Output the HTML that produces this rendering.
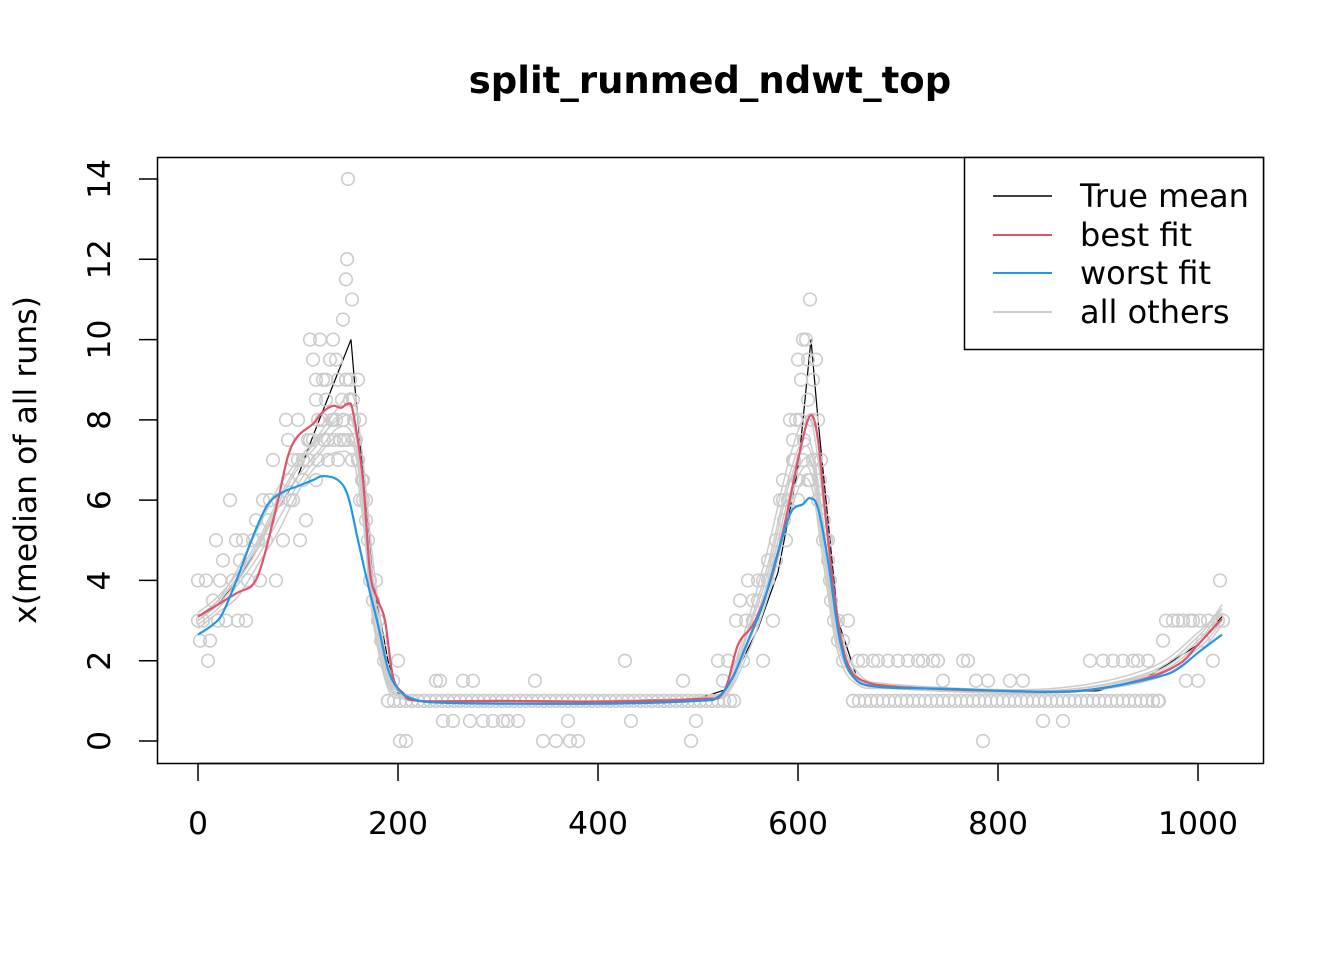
<!DOCTYPE html>
<html><head><meta charset="utf-8"><style>
body{margin:0;background:#fff}
svg text{font-family:"DejaVu Sans","Liberation Sans",sans-serif}
</style></head><body>
<svg id="chart" width="1344" height="960" xmlns="http://www.w3.org/2000/svg">
<rect width="1344" height="960" fill="#fff"/>
<text x="710" y="93" text-anchor="middle" font-size="37" font-weight="bold">split_runmed_ndwt_top</text>
<g id="lines0"></g>
<g id="lines1"></g>
<g id="pts"></g>
<g id="lines"></g>
<rect x="157.5" y="157.5" width="1106" height="606" fill="none" stroke="#000" stroke-width="1.5"/>
<g id="xaxis"></g>
<g id="yaxis"></g>
<text transform="translate(36,460) rotate(-90)" text-anchor="middle" font-size="31.5">x(median of all runs)</text>
<g>
<rect x="964.5" y="157.5" width="299" height="192" fill="#fff" stroke="#000" stroke-width="1.5"/>
<g><line x1="993" x2="1052" y1="196" y2="196" stroke="#000" stroke-width="1.5"/><text x="1080" y="207" font-size="32">True mean</text></g>
<g><line x1="993" x2="1052" y1="235" y2="235" stroke="#DF536B" stroke-width="2"/><text x="1080" y="246" font-size="32">best fit</text></g>
<g><line x1="993" x2="1052" y1="273" y2="273" stroke="#2297E6" stroke-width="2"/><text x="1080" y="284" font-size="32">worst fit</text></g>
<g><line x1="993" x2="1052" y1="312" y2="312" stroke="#cccccc" stroke-width="2"/><text x="1080" y="323" font-size="32">all others</text></g>
</g>
</svg>
<script>
const xTicks=[0,200,400,600,800,1000];
const yTicks=[0,2,4,6,8,10,12,14];
const meanX=[0,20,40,60,80,100,115,153,158,175,190,200,220,300,400,500,530,560,580,600,605,613,620,640,660,700,800,900,950,1000,1024];
const meanY=[3,3.4,4,4.8,5.8,6.6,7.6,10,8.5,4,2,1.2,1,1,1,1.05,1.3,2.8,4.2,6.8,8,10,8,3,1.5,1.3,1.2,1.25,1.6,2.4,3.1];
const bestX=[0,20,40,55,65,80,90,100,115,125,135,143,150,155,165,172,180,187,195,205,220,300,400,500,525,540,555,570,585,600,612,620,628,640,650,665,700,800,880,940,980,1000,1024];
const bestY=[3.1,3.4,3.7,3.9,4.5,6,7.1,7.6,7.9,8.2,8.35,8.3,8.4,8.2,6.5,4.2,3.5,3,1.6,1.2,1.0,1.0,0.98,1.05,1.2,2.4,2.9,3.8,5.2,7,8.1,7.5,5.5,3,1.9,1.5,1.35,1.25,1.25,1.5,1.9,2.4,3.05];
const worstX=[0,15,25,40,55,70,85,100,115,125,140,150,160,170,180,190,200,215,250,400,500,520,535,550,565,580,593,605,612,620,630,642,655,680,750,850,900,960,980,1000,1024];
const worstY=[2.65,2.9,3.2,4.1,5.1,5.9,6.2,6.35,6.5,6.6,6.5,6.1,5,3.9,2.9,1.8,1.3,1.05,0.95,0.93,1.0,1.1,1.6,2.5,3.4,4.7,5.7,5.9,6.05,5.8,4.5,2.5,1.6,1.35,1.3,1.22,1.3,1.6,1.8,2.2,2.65];
const othersX=[0,20,40,60,80,100,120,140,155,165,175,190,205,230,400,510,530,550,570,590,605,615,625,640,660,700,850,950,1000,1024];
const other1=[3,3.4,4,4.8,5.8,6.6,7.2,7.8,7.6,6,3.5,1.5,1.1,1,1,1.05,1.3,2.5,4,6,7,6.8,5,2.5,1.5,1.3,1.2,1.6,2.4,3.2];
const other2=[2.8,3.2,3.6,4.4,5.2,6.2,6.9,7.2,7,5.5,3,1.3,1.05,1,1,1.05,1.2,2.2,3.6,5.5,6.5,6.2,4.5,2.2,1.4,1.3,1.2,1.5,2.2,2.9];
const other3=[3.2,3.6,4.2,5,6,6.9,7.5,8,8,6.5,4,1.7,1.15,1,0.98,1.1,1.4,2.8,4.4,6.5,7.5,7.2,5.5,2.8,1.6,1.4,1.25,1.7,2.6,3.4];
const other4=[3,3.5,4.3,5.3,6.3,7,7.6,8.3,8.6,7,4.5,1.8,1.2,1,1,1.1,1.5,3,4.8,6.9,8,7.8,6,3,1.7,1.4,1.3,1.8,2.7,3.3];
const other5=[2.9,3.3,3.9,4.6,5.5,6.4,7.1,7.6,7.4,5.8,3.2,1.4,1.1,1,1,1.05,1.25,2.4,3.8,5.8,6.8,6.5,4.8,2.4,1.5,1.35,1.2,1.55,2.3,3];
const other6=[3.1,3.5,4.1,4.9,5.9,6.8,7.4,8.1,7.9,6.2,3.8,1.6,1.1,1,1,1.08,1.35,2.7,4.2,6.3,7.3,7,5.2,2.6,1.55,1.35,1.25,1.65,2.5,3.3];
const ptsX=[0,0,2,5,8,10,12,15,18,20,22,25,28,32,35,38,40,42,45,48,50,55,58,62,65,68,72,75,78,80,85,88,90,92,95,100,102,105,108,110,
112,115,118,120,122,125,128,130,132,135,138,140,142,145,148,149,150,152,154,156,158,160,162,165,168,170,172,175,178,180,183,186,190,195,200,202,208,
238,242,245,255,265,272,275,285,295,305,310,320,337,345,358,370,372,380,427,433,485,493,498,
520,525,530,538,542,545,550,555,560,565,570,575,578,582,585,588,592,595,598,600,603,605,608,610,612,615,618,620,623,625,628,630,633,636,640,645,650,655,660,
665,675,680,690,700,710,720,725,735,740,745,765,770,778,785,790,812,825,845,865,892,905,915,925,935,940,950,955,960,965,968,975,980,985,988,992,995,1000,1002,1005,1010,1015,1020,1022,1025,
60,70,80,90,100,110,115,120,125,130,135,140,145,150,155,160,165,595,600,605,610,615,620,625,590,585,630,
95,105,112,118,124,128,134,138,144,148,152,156,160,164,168,118,126,136,146,154,162,
570,578,586,590,596,602,606,610,614,618,622,626,632,600,612,620,560,548,555,565,640,645];
const ptsY=[4,3,2.5,3,4,2,2.5,3.5,5,3,4,4.5,3,6,4,5,3,4.5,5,3,4,5,5.5,4,6,5,6,7,4,6,5,8,7.5,6,7,8,5,6.5,5.5,7.5,
10,9.5,9,8,10,9,8.5,7,9.5,10,8,9,7.5,10.5,11.5,12,14,9,11,8,7.5,9,8,6,5.5,5,4,3.5,4,3,2.5,2,1,1.5,2,0,0,
1.5,1.5,0.5,0.5,1.5,0.5,1.5,0.5,0.5,0.5,0.5,0.5,1.5,0,0,0.5,0,0,2,0.5,1.5,0,0.5,
2,1.5,2,3,3.5,2,4,3,4,2,4.5,3,5,6,6.5,5,8,7.5,8,9.5,9,10,10,9.5,11,9,9.5,8,7,6,5,4.5,3.5,3,3,2,3,1,2,
2,2,2,2,2,2,2,2,2,2,1.5,2,2,1.5,0,1.5,1.5,1.5,0.5,0.5,2,2,2,2,2,2,2,1,1,2.5,3,3,3,3,1.5,3,3,1.5,3,2.5,3,2,3,4,3,
5,5.5,6,6.5,7,7,7.5,7,8,7.5,8,7,8,7.5,8.5,7,6.5,7,6.5,7,6.5,7,6,5,6,6,5,
6,7,7.5,8.5,8,9,8,9.5,8.5,9,8.5,7.5,7,6.5,6,6.5,7.5,7.5,7.5,7,6,
4,4.5,5.5,6,7,8,7.5,8.5,8,7,6.5,5.5,4,6,6.5,6,3.5,3,3.5,4,2.5,2.5];
const flatX=[190,196,202,208,214,220,226,232,238,244,250,256,262,268,274,280,286,292,298,304,310,316,322,328,334,340,346,352,358,364,370,376,382,388,394,400,406,412,418,424,430,436,442,448,454,460,466,472,478,484,490,496,502,508,514,520,526,532,536,655,661,667,673,679,685,691,697,703,709,715,721,727,733,739,745,751,757,763,769,775,781,787,793,799,805,811,817,823,829,835,841,847,853,859,865,871,877,883,889,895,901,907,913,919,925,931,937,943,949,955,961];
const flatY=flatX.map(()=>1);

const NS="http://www.w3.org/2000/svg";
const X=v=>198+v*1.0;
const Y=v=>741-v*(562/14);
function mk(tag,attrs,parent){const e=document.createElementNS(NS,tag);for(const k in attrs)e.setAttribute(k,attrs[k]);parent.appendChild(e);return e;}
function pathD(xs,ys){const p=xs.map((x,i)=>[X(x),Y(ys[i])]);let d=`M${p[0][0]},${p[0][1]}`;
for(let i=0;i<p.length-1;i++){const p0=p[i-1]||p[i],p1=p[i],p2=p[i+1],p3=p[i+2]||p2;
const c1=[p1[0]+(p2[0]-p0[0])/6,p1[1]+(p2[1]-p0[1])/6],c2=[p2[0]-(p3[0]-p1[0])/6,p2[1]-(p3[1]-p1[1])/6];
d+=`C${c1[0]},${c1[1]} ${c2[0]},${c2[1]} ${p2[0]},${p2[1]}`;}return d;}
function lineD(xs,ys){return xs.map((x,i)=>(i?'L':'M')+X(x)+','+Y(ys[i])).join('');}
const l0=document.getElementById('lines0');
const lm=mk('path',{d:lineD(meanX,meanY),fill:'none',stroke:'#000','stroke-width':1.2},l0);


const l1=document.getElementById('lines1');
[other1,other2,other3,other4,other5,other6].forEach(o=>{const l=mk('path',{d:pathD(othersX,o),fill:'none',stroke:'#cccccc','stroke-width':1.5},l1);

});
const pg=document.getElementById('pts');
function drawPts(xs,ys){xs.forEach((x,i)=>{const c=mk('circle',{cx:X(x),cy:Y(ys[i]),r:6.3,fill:'none',stroke:'#cccccc','stroke-width':1.6},pg);

});}
drawPts(flatX,flatY);drawPts(ptsX,ptsY);
const lg=document.getElementById('lines');
const lb=mk('path',{d:pathD(bestX,bestY),fill:'none',stroke:'#DF536B','stroke-width':2.2},lg);


const lw=mk('path',{d:pathD(worstX,worstY),fill:'none',stroke:'#2297E6','stroke-width':2.2},lg);


const xa=document.getElementById('xaxis');
mk('line',{x1:X(0),x2:X(1000),y1:763.5,y2:763.5,stroke:'#000','stroke-width':1.5},xa);
xTicks.forEach(t=>{mk('line',{x1:X(t),x2:X(t),y1:763,y2:781,stroke:'#000','stroke-width':1.5},xa);
const tx=mk('text',{x:X(t),y:834,'text-anchor':'middle','font-size':31.5},xa);tx.textContent=t;

});
const ya=document.getElementById('yaxis');
mk('line',{x1:157.5,x2:157.5,y1:Y(0),y2:Y(14),stroke:'#000','stroke-width':1.5},ya);
yTicks.forEach(t=>{mk('line',{x1:139,x2:157,y1:Y(t),y2:Y(t),stroke:'#000','stroke-width':1.5},ya);
const tx=mk('text',{transform:`translate(110,${Y(t)}) rotate(-90)`,'text-anchor':'middle','font-size':31.5},ya);tx.textContent=t;

});
</script>
</body></html>
